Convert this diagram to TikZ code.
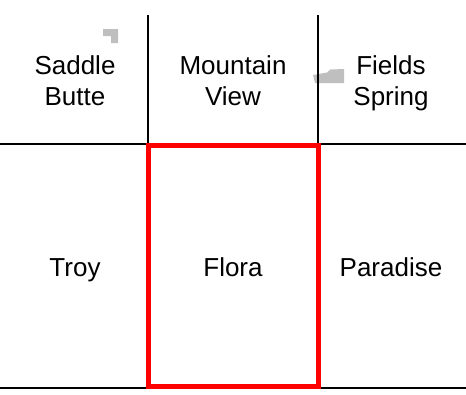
\documentclass[tikz,border=0pt]{standalone}
\usepackage{fontspec}
\setmainfont{Liberation Sans}
\begin{document}
\begin{tikzpicture}[x=1pt,y=-1pt,
  gridline/.style={line width=2pt, black},
  selbox/.style={draw=red, line width=5pt},
  lbl/.style={font=\fontsize{26}{31}\selectfont, align=center, inner sep=0pt, text height=18.6pt, text depth=0pt},
  patch/.style={fill=black!25, draw=none}]
\useasboundingbox (0,0) rectangle (466,394);
% gray map fragments
\fill[patch] (103,29) -- (118,29) -- (118,43) -- (111,43) -- (111,36) -- (103,36) -- cycle;
\fill[patch] (313,75) -- (327,72.5) -- (330.5,69.5) -- (344,69) -- (344,83) -- (315,83) -- cycle;
% grid
\coordinate (hl) at (0,143.5);
\coordinate (hr) at (466,143.5);
\coordinate (bl) at (0,388);
\coordinate (br) at (466,388);
\coordinate (v1t) at (148,15);
\coordinate (v1b) at (148,388);
\coordinate (v2t) at (318,15);
\coordinate (v2b) at (318,388);
\draw[gridline] (hl) -- (hr);
\draw[gridline] (bl) -- (br);
\draw[gridline] (v1t) -- (v1b);
\draw[gridline] (v2t) -- (v2b);
% selected cell
\draw[selbox] (148,145.5) rectangle (318,386);
% labels
\node[lbl] (saddle) at (75,96.5) {Saddle\\Butte};
\node[lbl] (mountain) at (233,96.5) {Mountain\\View};
\node[lbl] (fields) at (391,96.5) {Fields\\Spring};
\node[lbl] (troy) at (75,267) {Troy};
\node[lbl] (flora) at (233,267) {Flora};
\node[lbl] (paradise) at (391,267) {Paradise};
\end{tikzpicture}
\end{document}
